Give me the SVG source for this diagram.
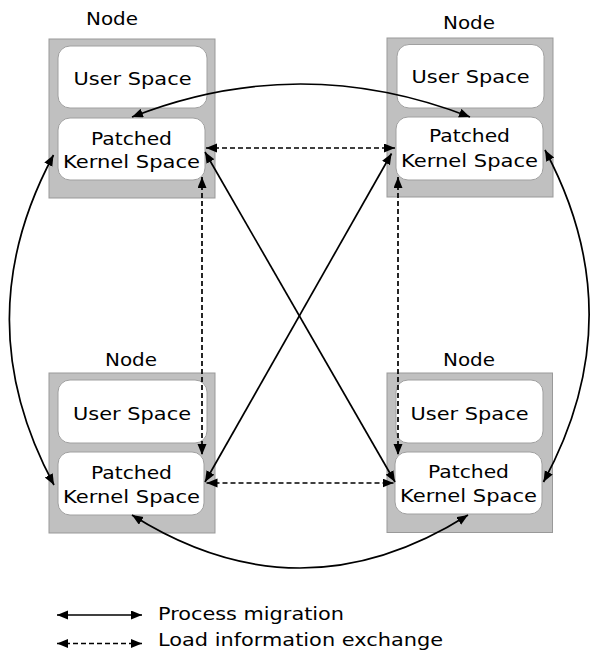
<svg xmlns="http://www.w3.org/2000/svg" width="592" height="650" viewBox="0 0 592 650">
  <style>
    .frame { fill: #c0c0c0; stroke: #999999; stroke-width: 1; }
    .space { fill: #ffffff; stroke: #a0a0a0; stroke-width: 1; }
    .lbl { font-family: "DejaVu Sans", Verdana, sans-serif; font-size: 18px; fill: #000000; text-anchor: middle; }
    .legend { font-family: "DejaVu Sans", Verdana, sans-serif; font-size: 18px; fill: #000000; }
    .conn { fill: none; stroke: #000000; stroke-width: 1.7; marker-start: url(#head); marker-end: url(#head); }
    .dash { stroke-dasharray: 5 3; }
  </style>
  <defs>
    <marker id="head" markerUnits="userSpaceOnUse" markerWidth="12" markerHeight="10" refX="11" refY="4.5" orient="auto-start-reverse" viewBox="0 0 12 10">
      <path d="M0,0 L11,4.5 L0,9 Z" fill="#000000"/>
    </marker>
  </defs>
  <rect width="592" height="650" fill="#ffffff"/>

  <!-- upper left node -->
  <g id="node-top-left">
    <text class="lbl" x="112" y="25" textLength="52" lengthAdjust="spacingAndGlyphs">Node</text>
    <rect class="frame" x="49" y="39" width="166" height="159"/>
    <rect class="space" x="58" y="46" width="149" height="62" rx="12"/>
    <text class="lbl" x="132.5" y="85" textLength="118" lengthAdjust="spacingAndGlyphs">User Space</text>
    <rect class="space" x="58" y="118" width="147" height="62" rx="12"/>
    <text class="lbl" x="131.5" y="145" textLength="81" lengthAdjust="spacingAndGlyphs">Patched</text>
    <text class="lbl" x="131.5" y="168" textLength="137" lengthAdjust="spacingAndGlyphs">Kernel Space</text>
  </g>

  <!-- upper right node -->
  <g id="node-top-right">
    <text class="lbl" x="469" y="29" textLength="52" lengthAdjust="spacingAndGlyphs">Node</text>
    <rect class="frame" x="387" y="38" width="166" height="159"/>
    <rect class="space" x="397" y="44.5" width="147" height="63.5" rx="12"/>
    <text class="lbl" x="470.5" y="83" textLength="118" lengthAdjust="spacingAndGlyphs">User Space</text>
    <rect class="space" x="396" y="117" width="147" height="63" rx="12"/>
    <text class="lbl" x="469.5" y="142" textLength="81" lengthAdjust="spacingAndGlyphs">Patched</text>
    <text class="lbl" x="469.5" y="167" textLength="137" lengthAdjust="spacingAndGlyphs">Kernel Space</text>
  </g>

  <!-- lower left node -->
  <g id="node-bottom-left">
    <text class="lbl" x="131" y="366" textLength="52" lengthAdjust="spacingAndGlyphs">Node</text>
    <rect class="frame" x="49" y="373" width="166" height="160"/>
    <rect class="space" x="58" y="380" width="149" height="63" rx="12"/>
    <text class="lbl" x="132" y="419.5" textLength="118" lengthAdjust="spacingAndGlyphs">User Space</text>
    <rect class="space" x="58" y="452" width="146" height="63" rx="12"/>
    <text class="lbl" x="131.5" y="478.5" textLength="81" lengthAdjust="spacingAndGlyphs">Patched</text>
    <text class="lbl" x="131.5" y="502.5" textLength="137" lengthAdjust="spacingAndGlyphs">Kernel Space</text>
  </g>

  <!-- lower right node -->
  <g id="node-bottom-right">
    <text class="lbl" x="469" y="366" textLength="52" lengthAdjust="spacingAndGlyphs">Node</text>
    <rect class="frame" x="387" y="373" width="165.5" height="159.5"/>
    <rect class="space" x="396" y="380" width="147" height="63" rx="12"/>
    <text class="lbl" x="469.5" y="419.5" textLength="118" lengthAdjust="spacingAndGlyphs">User Space</text>
    <rect class="space" x="395" y="452" width="147" height="62" rx="12"/>
    <text class="lbl" x="468.5" y="477.5" textLength="81" lengthAdjust="spacingAndGlyphs">Patched</text>
    <text class="lbl" x="468.5" y="502" textLength="137" lengthAdjust="spacingAndGlyphs">Kernel Space</text>
  </g>

  <!-- links between kernel spaces -->
  <g id="connectors">
    <!-- process migration -->
    <path class="conn" d="M132,117 Q300,51 470,117"/>
    <path class="conn" d="M53.5,155 Q-35,320 54,485"/>
    <path class="conn" d="M545,150 Q634,316 543.5,482"/>
    <path class="conn" d="M132,515 Q300,621 468,515"/>
    <path class="conn" d="M205,152 L395,482"/>
    <path class="conn" d="M391.5,153.5 L205,482"/>
    <!-- load information exchange -->
    <path class="conn dash" d="M206,148 L395,148"/>
    <path class="conn dash" d="M206.5,483 L393.5,483"/>
    <path class="conn dash" d="M202,177 L202,455"/>
    <path class="conn dash" d="M398,177 L398,455"/>
  </g>

  <!-- key -->
  <g id="legend">
    <path class="conn" d="M57,615 L142,615"/>
    <text class="legend" x="158" y="619.5" textLength="186" lengthAdjust="spacingAndGlyphs">Process migration</text>
    <path class="conn dash" d="M57,643.5 L142,643.5"/>
    <text class="legend" x="158" y="645.5" textLength="285" lengthAdjust="spacingAndGlyphs">Load information exchange</text>
  </g>
</svg>
